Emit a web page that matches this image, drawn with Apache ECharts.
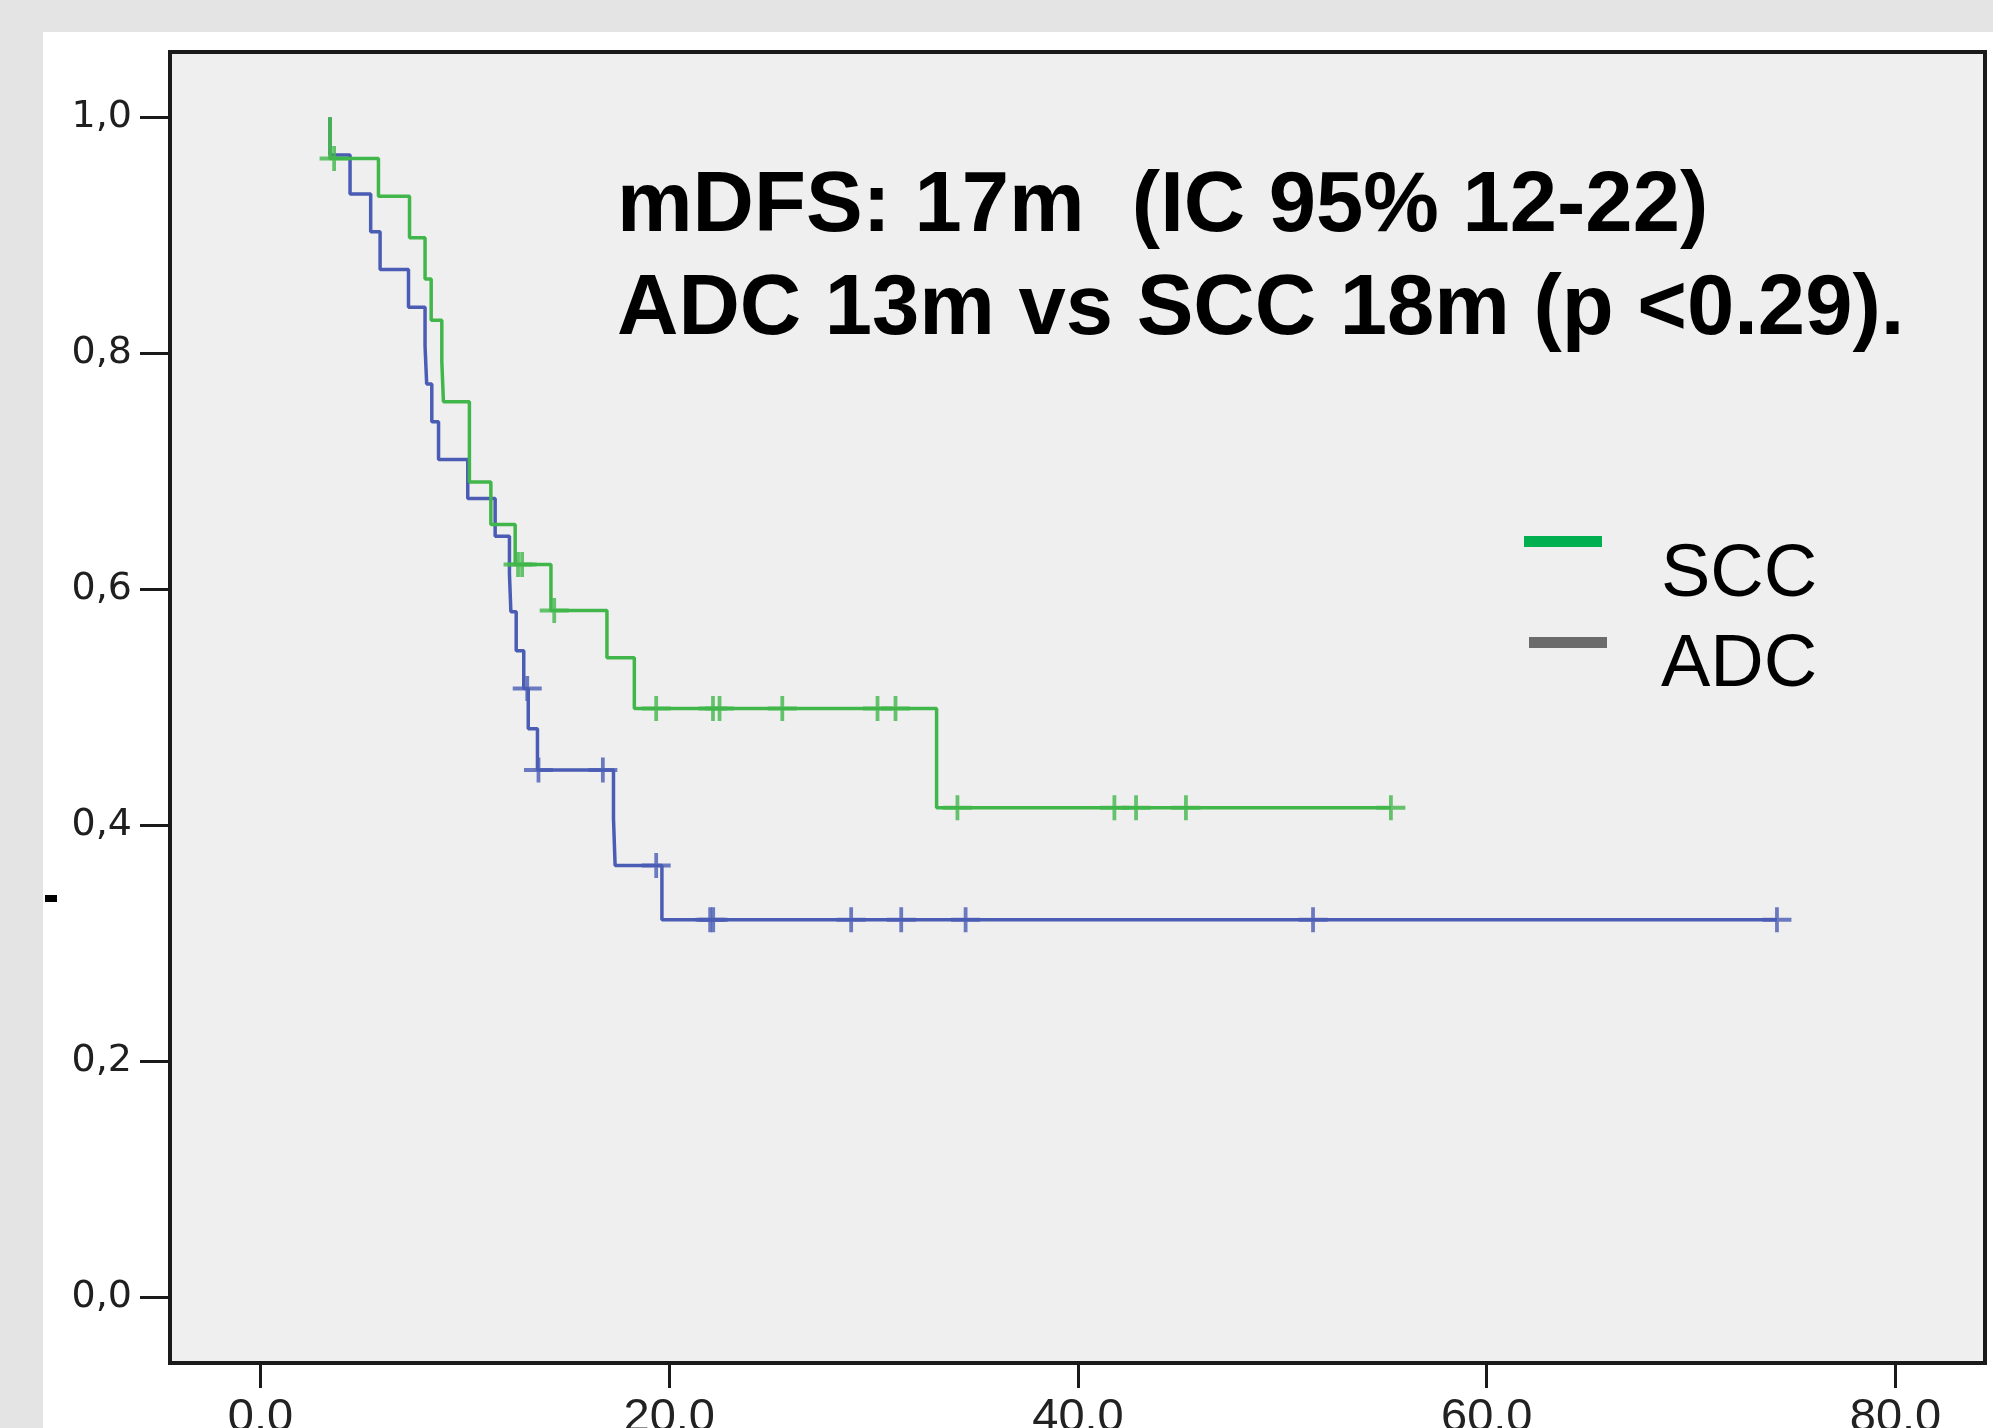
<!DOCTYPE html>
<html>
<head>
<meta charset="utf-8">
<script src="https://cdn.jsdelivr.net/npm/echarts@6/dist/echarts.min.js"></script>
<style>
html,body{margin:0;padding:0;background:#e4e4e4;width:1993px;height:1428px;overflow:hidden;}
#panel{position:absolute;left:43px;top:32px;width:1950px;height:1396px;background:#ffffff;}
#chart{position:absolute;left:0;top:0;width:1993px;height:1428px;}
</style>
</head>
<body>
<div id="panel"></div>
<div id="chart"></div>
<script>
// ---- Data ----
const sccTime = [3.40, 3.40, 5.77, 7.29, 8.05, 8.35, 8.87, 8.95, 10.22, 11.27, 12.46, 14.21, 16.95, 18.29, 33.08, 55.31];
const sccSurv = [1.000, 0.965, 0.933, 0.898, 0.863, 0.828, 0.793, 0.759, 0.691, 0.655, 0.621, 0.582, 0.542, 0.499, 0.415, 0.415];
const sccCensorTime = [3.6, 12.6, 12.8, 14.37, 19.36, 22.14, 22.46, 25.53, 30.19, 31.07, 34.1, 41.78, 42.84, 45.28, 55.31];
const sccCensorSurv = [0.965, 0.621, 0.621, 0.582, 0.499, 0.499, 0.499, 0.499, 0.499, 0.499, 0.415, 0.415, 0.415, 0.415, 0.415];

const adcTime = [3.40, 3.40, 4.38, 5.39, 5.85, 7.24, 8.05, 8.13, 8.38, 8.71, 10.14, 11.48, 12.18, 12.25, 12.51, 12.88, 13.10, 13.55, 17.27, 17.35, 19.64, 74.2];
const adcSurv = [1.000, 0.968, 0.935, 0.903, 0.871, 0.839, 0.806, 0.774, 0.742, 0.710, 0.677, 0.645, 0.613, 0.581, 0.548, 0.516, 0.482, 0.447, 0.406, 0.366, 0.320, 0.320];
const adcCensorTime = [13.05, 13.6, 16.75, 19.36, 22.0, 22.15, 28.9, 31.35, 34.5, 51.5, 74.2];
const adcCensorSurv = [0.516, 0.447, 0.447, 0.366, 0.320, 0.320, 0.320, 0.320, 0.320, 0.320, 0.320];

const xTickValues = [0, 20, 40, 60, 80];
const yTickValues = [0, 0.2, 0.4, 0.6, 0.8, 1.0];
const titleLines = ['mDFS: 17m  (IC 95% 12-22)', 'ADC 13m vs SCC 18m (p <0.29).'];
const legendNames = ['SCC', 'ADC'];

// ---- Styles ----
const GREEN = '#41b64b';
const BLUE = '#4a5cb4';
const plusPath = 'path://M43.5,0H56.5V42H100V58H56.5V100H43.5V58H0V42H43.5Z';

function zip(a, b) { return a.map((v, i) => [v, b[i]]); }

const chart = echarts.init(document.getElementById('chart'), null, {renderer: 'canvas'});
chart.setOption({
  animation: false,
  backgroundColor: 'transparent',
  grid: {
    left: 170, top: 52, right: 8, bottom: 65,
    outerBoundsMode: 'none',
    containLabel: false,
    show: true, backgroundColor: '#efefef', borderColor: '#1a1a1a', borderWidth: 4
  },
  xAxis: {
    type: 'value', min: -4.43, max: 84.38,
    axisLine: {show: false, onZero: false},
    splitLine: {show: false},
    axisTick: {show: true, length: 25, customValues: xTickValues, lineStyle: {color: '#1a1a1a', width: 3}},
    axisLabel: {
      customValues: xTickValues, margin: 32,
      formatter: v => Number(v).toFixed(1),
      fontSize: 47, fontFamily: 'Liberation Sans', color: '#222'
    }
  },
  yAxis: {
    type: 'value', min: -0.0555, max: 1.0553,
    axisLine: {show: false, onZero: false},
    splitLine: {show: false},
    axisTick: {show: true, length: 30, customValues: yTickValues, lineStyle: {color: '#1a1a1a', width: 3}},
    axisLabel: {
      customValues: yTickValues, margin: 38,
      formatter: v => Number(v).toFixed(1).replace('.', ','),
      fontSize: 38, fontFamily: 'DejaVu Sans', color: '#1f1f1f'
    }
  },
  series: [
    {
      name: 'ADC', type: 'line', step: 'end', showSymbol: false, z: 2,
      data: zip(adcTime, adcSurv),
      lineStyle: {color: BLUE, width: 3.5}
    },
    {
      name: 'ADC censored', type: 'scatter', z: 3,
      data: zip(adcCensorTime, adcCensorSurv),
      symbol: plusPath, symbolSize: [29, 25],
      itemStyle: {color: BLUE}
    },
    {
      name: 'SCC', type: 'line', step: 'end', showSymbol: false, z: 4,
      data: zip(sccTime, sccSurv),
      lineStyle: {color: GREEN, width: 3.5}
    },
    {
      name: 'SCC censored', type: 'scatter', z: 5,
      data: zip(sccCensorTime, sccCensorSurv),
      symbol: plusPath, symbolSize: [29, 25],
      itemStyle: {color: GREEN}
    }
  ],
  graphic: [
    {type: 'text', x: 617, y: 208, z: 10, style: {text: titleLines[0], font: 'bold 85px "Liberation Sans"', fill: '#000', align: 'left', verticalAlign: 'middle'}},
    {type: 'text', x: 617, y: 311, z: 10, style: {text: titleLines[1], font: 'bold 85px "Liberation Sans"', fill: '#000', align: 'left', verticalAlign: 'middle'}},
    {type: 'rect', z: 10, shape: {x: 1524, y: 536, width: 78, height: 11}, style: {fill: '#00b050'}},
    {type: 'rect', z: 10, shape: {x: 1529, y: 637, width: 78, height: 11}, style: {fill: '#6b6b6b'}},
    {type: 'text', x: 1661, y: 576, z: 10, style: {text: legendNames[0], font: '74px "Liberation Sans"', fill: '#000', align: 'left', verticalAlign: 'middle'}},
    {type: 'text', x: 1661, y: 666, z: 10, style: {text: legendNames[1], font: '74px "Liberation Sans"', fill: '#000', align: 'left', verticalAlign: 'middle'}},
    {type: 'rect', z: 10, shape: {x: 45, y: 895, width: 12, height: 7}, style: {fill: '#000'}}
  ]
});
</script>
</body>
</html>
